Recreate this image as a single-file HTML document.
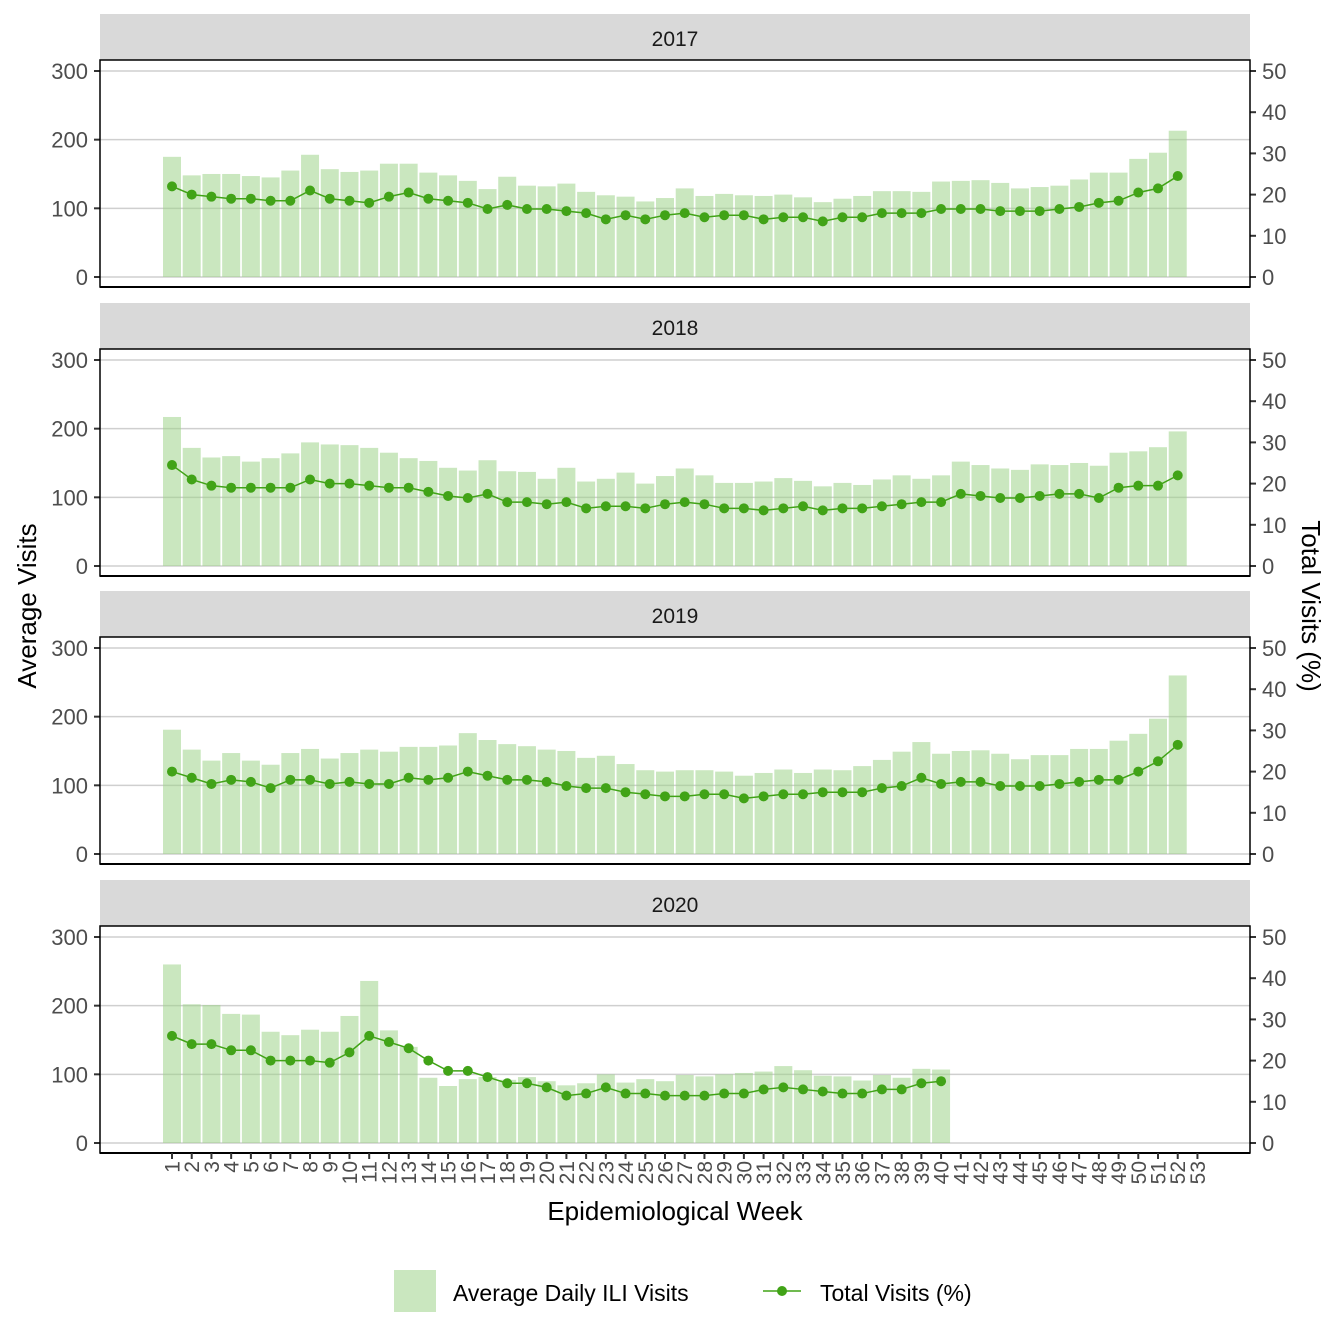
<!DOCTYPE html><html><head><meta charset="utf-8"><style>body{margin:0;background:#fff}svg{display:block;font-family:"Liberation Sans",sans-serif}</style></head><body>
<svg id="s" width="1344" height="1344" xmlns="http://www.w3.org/2000/svg"></svg>
<script>
const B=[
[175,148,150,150,147,145,155,178,157,153,155,165,165,152,148,140,128,146,133,132,136,124,119,117,110,115,129,118,121,119,118,120,116,109,114,118,125,125,124,139,140,141,137,129,131,133,142,152,152,172,181,213],
[217,172,158,160,152,157,164,180,177,176,172,165,157,153,143,139,154,138,137,127,143,123,127,136,120,131,142,132,121,121,123,128,124,116,121,118,126,132,127,132,152,147,142,140,148,147,150,146,165,167,173,196],
[181,152,136,147,136,130,147,153,139,147,152,149,156,156,158,176,166,160,157,152,150,140,143,131,122,120,122,122,120,114,118,123,118,123,122,128,137,149,163,146,150,151,146,138,144,144,153,153,165,175,197,260],
[260,202,201,188,187,162,157,165,162,185,236,164,140,95,83,93,96,92,96,90,84,87,100,88,93,90,99,97,100,102,104,112,106,98,97,91,99,95,108,107]];
const L=[
[22,20,19.5,19,19,18.5,18.5,21,19,18.5,18,19.5,20.5,19,18.5,18,16.5,17.5,16.5,16.5,16,15.5,14,15,14,15,15.5,14.5,15,15,14,14.5,14.5,13.5,14.5,14.5,15.5,15.5,15.5,16.5,16.5,16.5,16,16,16,16.5,17,18,18.5,20.5,21.5,24.5],
[24.5,21,19.5,19,19,19,19,21,20,20,19.5,19,19,18,17,16.5,17.5,15.5,15.5,15,15.5,14,14.5,14.5,14,15,15.5,15,14,14,13.5,14,14.5,13.5,14,14,14.5,15,15.5,15.5,17.5,17,16.5,16.5,17,17.5,17.5,16.5,19,19.5,19.5,22],
[20,18.5,17,18,17.5,16,18,18,17,17.5,17,17,18.5,18,18.5,20,19,18,18,17.5,16.5,16,16,15,14.5,14,14,14.5,14.5,13.5,14,14.5,14.5,15,15,15,16,16.5,18.5,17,17.5,17.5,16.5,16.5,16.5,17,17.5,18,18,20,22.5,26.5],
[26,24,24,22.5,22.5,20,20,20,19.5,22,26,24.5,23,20,17.5,17.5,16,14.5,14.5,13.5,11.5,12,13.5,12,12,11.5,11.5,11.5,12,12,13,13.5,13,12.5,12,12,13,13,14.5,15]];
const yrs=["2017","2018","2019","2020"],tops=[60,349,637,926];
const X=w=>172+(w-1)*19.72;
let h='';
for(let p=0;p<4;p++){
 const t=tops[p],z=t+217,Y=v=>z-v*0.6867,YR=v=>z-v*4.12;
 h+=`<rect x="100" y="${t-46}" width="1150" height="46" fill="#d9d9d9"/>`;
 h+=`<text x="675" y="${t-14}" font-size="21" fill="#1a1a1a" text-anchor="middle">${yrs[p]}</text>`;
 for(const v of [0,100,200,300]){h+=`<line x1="100" x2="1250" y1="${Y(v)}" y2="${Y(v)}" stroke="#cfcfcf" stroke-width="1.5"/>`;
  h+=`<line x1="94" x2="100" y1="${Y(v)}" y2="${Y(v)}" stroke="#333" stroke-width="2"/><text x="88" y="${Y(v)+8}" font-size="22" fill="#4d4d4d" text-anchor="end">${v}</text>`;}
 for(const v of [0,10,20,30,40,50]){h+=`<line x1="1250" x2="1256" y1="${YR(v)}" y2="${YR(v)}" stroke="#333" stroke-width="2"/><text x="1262" y="${YR(v)+8}" font-size="22" fill="#4d4d4d">${v}</text>`;}
 B[p].forEach((v,i)=>{h+=`<rect x="${X(i+1)-9}" y="${Y(v)}" width="18" height="${v*0.6867}" fill="#9fd38a" fill-opacity="0.55"/>`;});
 h+=`<polyline fill="none" stroke="#41a317" stroke-width="1.5" points="${L[p].map((v,i)=>X(i+1)+','+Y(v*6)).join(' ')}"/>`;
 L[p].forEach((v,i)=>{h+=`<circle cx="${X(i+1)}" cy="${Y(v*6)}" r="5" fill="#41a317"/>`;});
 h+=`<rect x="100" y="${t}" width="1150" height="227" fill="none" stroke="#000" stroke-width="1.5"/><line x1="100" x2="1250" y1="${t+227}" y2="${t+227}" stroke="#000" stroke-width="2"/>`;
}
for(let w=1;w<=53;w++){h+=`<line x1="${X(w)}" x2="${X(w)}" y1="1153" y2="1159" stroke="#333" stroke-width="2"/><text transform="translate(${X(w)+7.5},1161) rotate(-90)" font-size="21" fill="#4d4d4d" text-anchor="end">${w}</text>`;}
h+=`<text x="675" y="1220" font-size="26" text-anchor="middle">Epidemiological Week</text>`;
h+=`<text transform="translate(36,606) rotate(-90)" font-size="26" text-anchor="middle">Average Visits</text>`;
h+=`<text transform="translate(1302,606) rotate(90)" font-size="26" text-anchor="middle">Total Visits (%)</text>`;
h+=`<rect x="394" y="1270" width="42" height="42" fill="#9fd38a" fill-opacity="0.55"/><text x="453" y="1301" font-size="23">Average Daily ILI Visits</text>`;
h+=`<line x1="763" x2="801" y1="1291" y2="1291" stroke="#41a317" stroke-width="1.5"/><circle cx="782" cy="1291" r="5" fill="#41a317"/><text x="820" y="1301" font-size="23">Total Visits (%)</text>`;
document.getElementById('s').innerHTML=h;
</script></body></html>
